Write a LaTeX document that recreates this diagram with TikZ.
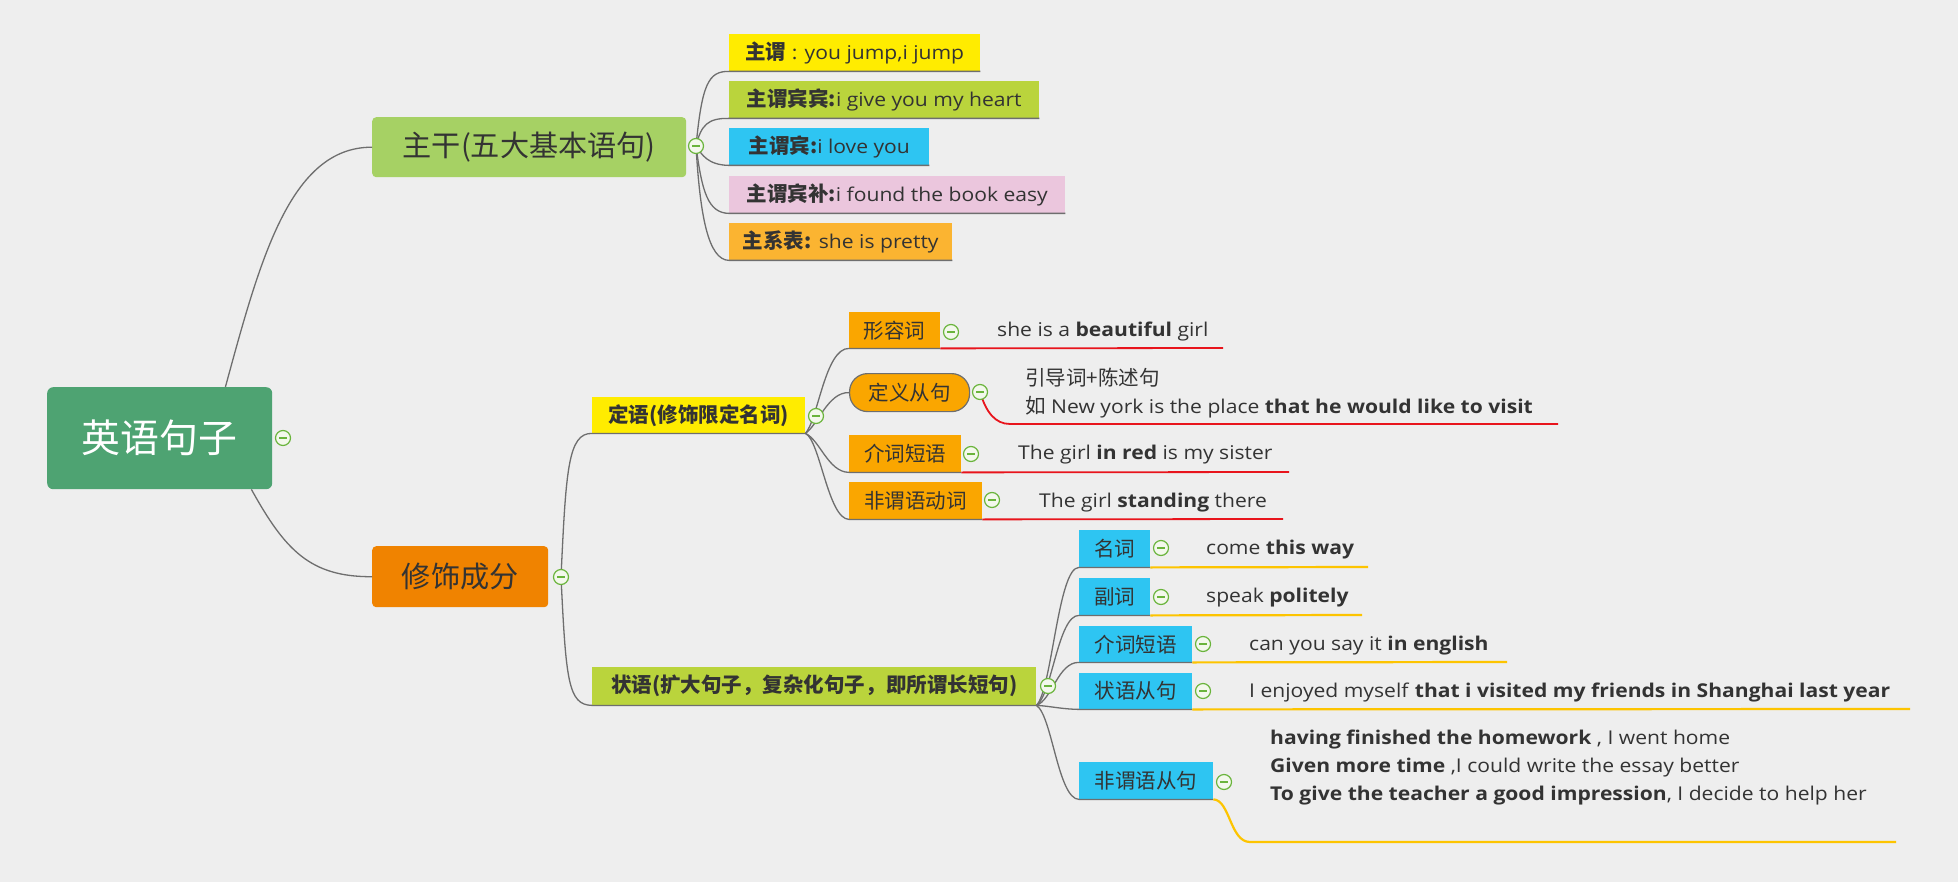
\documentclass[tikz,border=0pt]{standalone}
\usepackage{fontspec}
\setmainfont{Open Sans}[FakeStretch=1.11]
\newfontfamily\cjk{Noto Sans CJK SC}[Scale=1.08]
\usetikzlibrary{calc}
\pgfdeclarelayer{back}
\pgfdeclarelayer{fg}
\pgfsetlayers{back,main,fg}
\definecolor{bgc}{HTML}{EEEEEE}
\definecolor{txt}{HTML}{333333}
\definecolor{lnc}{HTML}{6E6E6E}
\definecolor{rootg}{HTML}{4EA372}
\definecolor{zgg}{HTML}{A6D164}
\definecolor{xso}{HTML}{F08300}
\definecolor{cyel}{HTML}{FFEC00}
\definecolor{cyg}{HTML}{BAD43C}
\definecolor{ccy}{HTML}{2EC5F2}
\definecolor{cpk}{HTML}{EBC6DD}
\definecolor{cor}{HTML}{FBB431}
\definecolor{cor2}{HTML}{FAA600}
\definecolor{cred}{HTML}{E8141C}
\definecolor{cyl}{HTML}{FDC400}
\definecolor{cgrn}{HTML}{6AB43C}
\definecolor{cbtnf}{HTML}{F3F8EC}
\newcommand{\fsroot}{\fontsize{36}{42}\selectfont}
\newcommand{\fsmain}{\fontsize{27}{32}\selectfont}
\newcommand{\fsn}{\fontsize{19}{28}\selectfont}
\begin{document}
\begin{tikzpicture}[x=1pt,y=-1pt,
  every node/.style={text=txt, inner sep=0pt},
  conn/.style={draw=lnc, line width=1.3pt},
  redl/.style={draw=cred, line width=1.8pt},
  yell/.style={draw=cyl, line width=2.2pt},
  topic/.style={anchor=north west, font=\fsn, align=center},
  desc/.style={anchor=base west, font=\fsn},
  cbtn/.style={circle, draw=cgrn, line width=1.2pt, fill=cbtnf, minimum size=15pt,
    path picture={\draw[cgrn, line width=1.6pt] ([xshift=-4pt]path picture bounding box.center) -- ([xshift=4pt]path picture bounding box.center);}}]

\begin{pgfonlayer}{back}
\fill[bgc] (0,0) rectangle (1958,882);
\end{pgfonlayer}
\useasboundingbox (0,0) rectangle (1958,882);

% main topics
\node[anchor=north west, fill=rootg, rounded corners=6pt, minimum width=225pt, minimum height=102pt, text=white, font=\cjk\fsroot] (root) at (47,387) {英语句子};
\node[anchor=north west, fill=zgg, rounded corners=4pt, minimum width=314pt, minimum height=60pt, font=\cjk\fsmain] (zg) at (372,117) {主干(五大基本语句)};
\node[anchor=north west, fill=xso, rounded corners=4pt, minimum width=176pt, minimum height=61pt, font=\cjk\fsmain] (xs) at (372,546) {修饰成分};

% children of zg
\node[topic, fill=cyel, minimum width=251pt, minimum height=37pt] (zw) at (729,34) {{\cjk\bfseries 主谓} : you jump,i jump};
\node[topic, fill=cyg, minimum width=310pt, minimum height=37pt] (zwbb) at (729,81) {{\cjk\bfseries 主谓宾宾:}i give you my heart};
\node[topic, fill=ccy, minimum width=200pt, minimum height=37pt] (zwb) at (729,128) {{\cjk\bfseries 主谓宾:}i love you};
\node[topic, fill=cpk, minimum width=336pt, minimum height=37pt] (zwbbu) at (729,176) {{\cjk\bfseries 主谓宾补:}i found the book easy};
\node[topic, fill=cor, minimum width=223pt, minimum height=37pt] (zxb) at (729,223) {{\cjk\bfseries 主系表:} she is pretty};

% children of xs
\node[topic, fill=cyel, minimum width=213pt, minimum height=36pt, font=\cjk\bfseries\fsn] (dy) at (592,397) {定语(修饰限定名词)};
\node[topic, fill=cyg, minimum width=444pt, minimum height=38pt, font=\cjk\bfseries\fsn] (zy) at (592,667) {状语(扩大句子，复杂化句子，即所谓长短句)};

% children of dy
\node[topic, fill=cor2, minimum width=91pt, minimum height=36pt, font=\cjk\fsn] (xrc) at (849,312) {形容词};
\node[topic, fill=cor2, draw=lnc, line width=1.2pt, rounded corners=18pt, minimum width=120pt, minimum height=38pt, font=\cjk\fsn] (dycj) at (849,373) {定义从句};
\node[topic, fill=cor2, minimum width=112pt, minimum height=37pt, font=\cjk\fsn] (jcdy) at (849,435) {介词短语};
\node[topic, fill=cor2, minimum width=133pt, minimum height=37pt, font=\cjk\fsn] (fwy) at (849,482) {非谓语动词};

% children of zy
\node[topic, fill=ccy, minimum width=71pt, minimum height=37pt, font=\cjk\fsn] (mc) at (1079,530) {名词};
\node[topic, fill=ccy, minimum width=71pt, minimum height=37pt, font=\cjk\fsn] (fc) at (1079,578) {副词};
\node[topic, fill=ccy, minimum width=113pt, minimum height=36pt, font=\cjk\fsn] (jcdyb) at (1079,626) {介词短语};
\node[topic, fill=ccy, minimum width=113pt, minimum height=36pt, font=\cjk\fsn] (zycj) at (1079,673) {状语从句};
\node[topic, fill=ccy, minimum width=134pt, minimum height=37pt, font=\cjk\fsn] (fwycj) at (1079,762) {非谓语从句};

% descriptions
\node[desc] (d1) at (997,337) {she is a \textbf{beautiful} girl};
\node[anchor=west, font=\fsn, align=left] (d2) at (1025,393) {{\cjk 引导词+陈述句}\\{\cjk 如} New york is the place \textbf{that he would like to visit}};
\node[desc] (d3) at (1018,459) {The girl \textbf{in red} is my sister};
\node[desc] (d4) at (1039,507) {The girl \textbf{standing} there};
\node[desc] (e1) at (1206,554) {come \textbf{this way}};
\node[desc] (e2) at (1206,602) {speak \textbf{politely}};
\node[desc] (e3) at (1249,650) {can you say it \textbf{in english}};
\node[desc] (e4) at (1249,697) {I enjoyed myself \textbf{that i visited my friends in Shanghai last year}};
\node[anchor=west, font=\fsn, align=left] (e5) at (1270,768) {\textbf{having finished the homework} , I went home\\\textbf{Given more time} ,I could write the essay better\\\textbf{To give the teacher a good impression}, I decide to help her};

% collapse buttons
\begin{pgfonlayer}{fg}
\node[cbtn] (croot) at (283,438) {};
\node[cbtn] (czg) at (696,146) {};
\node[cbtn] (cxs) at (561,577) {};
\node[cbtn] (cdy) at (816,416) {};
\node[cbtn] (czy) at (1048,686) {};
\node[cbtn] (cxrc) at (951,332) {};
\node[cbtn] (cdycj) at (980,392) {};
\node[cbtn] (cjcdy) at (971,454) {};
\node[cbtn] (cfwy) at (992,500) {};
\node[cbtn] (cmc) at (1161,548) {};
\node[cbtn] (cfc) at (1161,597) {};
\node[cbtn] (cjcdyb) at (1203,644) {};
\node[cbtn] (czycj) at (1203,691) {};
\node[cbtn] (cfwycj) at (1224,782) {};
\end{pgfonlayer}

% free ends of underlines
\coordinate (u1) at (1223,348);
\coordinate (u2a) at (1010,424);
\coordinate (u2) at (1558,424);
\coordinate (u3) at (1289,472);
\coordinate (u4) at (1283,519);
\coordinate (v1) at (1368,567);
\coordinate (v2) at (1362,615);
\coordinate (v3) at (1507,662);
\coordinate (v4) at (1910,709);
\coordinate (v5a) at (1250,842);
\coordinate (v5) at (1896,842);

% connectors
\draw[conn] ([xshift=-47pt]root.north east) .. controls (260,260) and (290,147) .. (zg.west);
\draw[conn] ([xshift=-21pt]root.south east) .. controls (285,550) and (310,577) .. (xs.west);

\draw[conn] (czg.center) .. controls (702,85) and (708,71) .. (zw.south west) -- (zw.south east);
\draw[conn] (czg.center) .. controls (701,125) and (708,118) .. (zwbb.south west) -- (zwbb.south east);
\draw[conn] (czg.center) .. controls (702,155) and (708,165) .. (zwb.south west) -- (zwb.south east);
\draw[conn] (czg.center) .. controls (702,192) and (708,213) .. (zwbbu.south west) -- (zwbbu.south east);
\draw[conn] (czg.center) .. controls (700,215) and (708,260) .. (zxb.south west) -- (zxb.south east);

\draw[conn] (cxs.center) .. controls (566,470) and (568,433) .. (dy.south west) -- (dy.south east);
\draw[conn] (cxs.center) .. controls (566,680) and (568,705) .. (zy.south west) -- (zy.south east);

\draw[conn] (dy.south east) .. controls (818,420) and (825,348) .. (xrc.south west) -- (xrc.south east);
\draw[conn] (dy.south east) .. controls (818,425) and (828,392) .. (dycj.west);
\draw[conn] (dy.south east) .. controls (820,440) and (828,472) .. (jcdy.south west) -- (jcdy.south east);
\draw[conn] (dy.south east) .. controls (820,440) and (828,519) .. (fwy.south west) -- (fwy.south east);

\draw[conn] (zy.south east) .. controls (1052,690) and (1058,567) .. (mc.south west) -- (mc.south east);
\draw[conn] (zy.south east) .. controls (1052,695) and (1058,615) .. (fc.south west) -- (fc.south east);
\draw[conn] (zy.south east) .. controls (1052,700) and (1058,662) .. (jcdyb.south west) -- (jcdyb.south east);
\draw[conn] (zy.south east) .. controls (1050,706) and (1060,709) .. (zycj.south west) -- (zycj.south east);
\draw[conn] (zy.south east) .. controls (1052,715) and (1058,799) .. (fwycj.south west) -- (fwycj.south east);

% underlines
\draw[redl] (xrc.south east) -- (u1);
\draw[redl] (cdycj.center) .. controls (986,412) and (995,424) .. (u2a) -- (u2);
\draw[redl] (jcdy.south east) -- (u3);
\draw[redl] (fwy.south east) -- (u4);
\draw[yell] (mc.south east) -- (v1);
\draw[yell] (fc.south east) -- (v2);
\draw[yell] (jcdyb.south east) -- (v3);
\draw[yell] (zycj.south east) -- (v4);
\draw[yell] (fwycj.south east) .. controls (1230,800) and (1230,842) .. (v5a) -- (v5);
\end{tikzpicture}
\end{document}
